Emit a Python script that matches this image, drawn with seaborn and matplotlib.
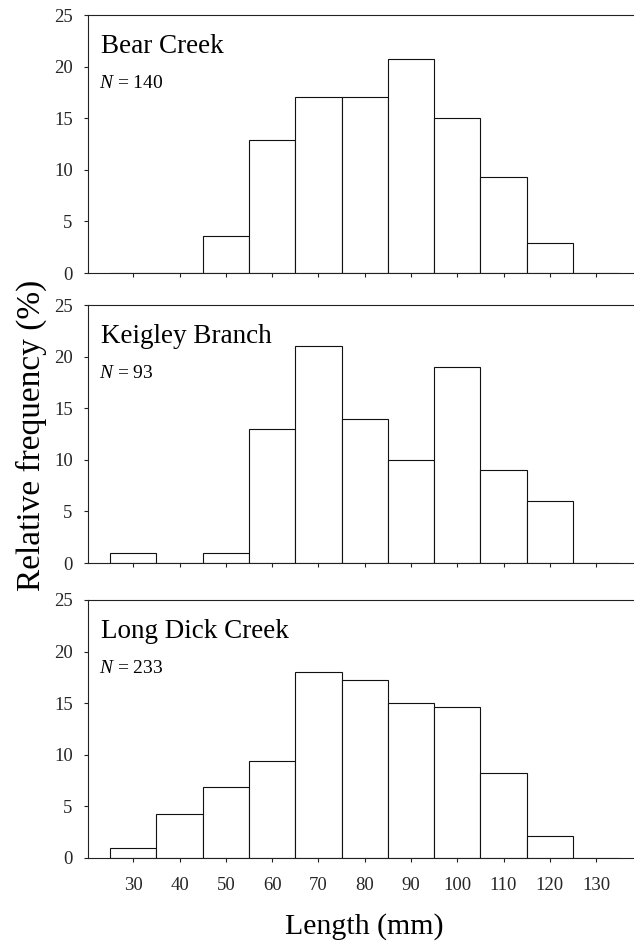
import matplotlib
matplotlib.use("Agg")
import matplotlib.pyplot as plt
import seaborn as sns
import numpy as np

sns.set_theme(style="white")
plt.rcParams['font.family'] = ['Liberation Serif', 'DejaVu Serif']
plt.rcParams['mathtext.fontset'] = 'custom'
plt.rcParams['mathtext.it'] = 'Liberation Serif:italic'
plt.rcParams['mathtext.rm'] = 'Liberation Serif'

lengths = [30, 40, 50, 60, 70, 80, 90, 100, 110, 120, 130]
bear_creek = [0, 0, 3.6, 12.9, 17.1, 17.1, 20.7, 15.0, 9.3, 2.9, 0]
keigley_branch = [1, 0, 1, 13, 21, 14, 10, 19, 9, 6, 0]
long_dick_creek = [1.0, 4.3, 6.9, 9.4, 18.0, 17.2, 15.0, 14.6, 8.2, 2.1, 0]

panel_names = ["Bear Creek", "Keigley Branch", "Long Dick Creek"]
panel_n = [140, 93, 233]
panel_values = [bear_creek, keigley_branch, long_dick_creek]
yticks = [0, 5, 10, 15, 20, 25]

fig = plt.figure(figsize=(6.34, 9.43), dpi=100)
W, H = 634, 943
left_px = 88
tops = [15, 305, 600]
ax_h = 258

axes = []
for i, (name, n, vals) in enumerate(zip(panel_names, panel_n, panel_values)):
    top = tops[i]
    ax = fig.add_axes([left_px / W, 1 - (top + ax_h) / H, (W - left_px) / W, ax_h / H])
    sns.histplot(x=lengths, weights=vals, binwidth=10, binrange=(25, 135),
                 stat="count", color="white", edgecolor="#111111", linewidth=0.8,
                 alpha=1, ax=ax)
    ax.set_xlim(20.2, 138.2)
    ax.set_ylim(0, 25)
    ax.set_yticks(yticks)
    ax.set_xticks(lengths)
    for side in ["left", "top", "bottom"]:
        ax.spines[side].set_visible(True)
        ax.spines[side].set_color("#222222")
        ax.spines[side].set_linewidth(0.8)
    ax.spines["right"].set_visible(False)
    ax.tick_params(axis="both", direction="out", length=3, width=0.8, color="#222222",
                   labelsize=13.5, bottom=True, left=True)
    ax.tick_params(axis="y", pad=8)
    ax.set_ylabel("")
    ax.set_xlabel("")
    if i < 2:
        ax.set_xticklabels([])
    else:
        ax.tick_params(axis="x", pad=11)
    ax.text(13 / 546, (ax_h - 38) / ax_h, name, transform=ax.transAxes, fontsize=19.5,
            ha="left", va="baseline", color="black")
    ax.text(11 / 546, (ax_h - 73) / ax_h, r"$N$ = %d" % n, transform=ax.transAxes,
            fontsize=14, ha="left", va="baseline", color="black")
    axes.append(ax)

fig.text(31 / W, 1 - 435 / H, "Relative frequency (%)", rotation=90,
         ha="center", va="center", fontsize=24, color="black")
fig.text(364 / W, 1 - 934 / H, "Length (mm)", ha="center", va="baseline",
         fontsize=21.5, color="black")

fig.savefig("out.png", dpi=100)
